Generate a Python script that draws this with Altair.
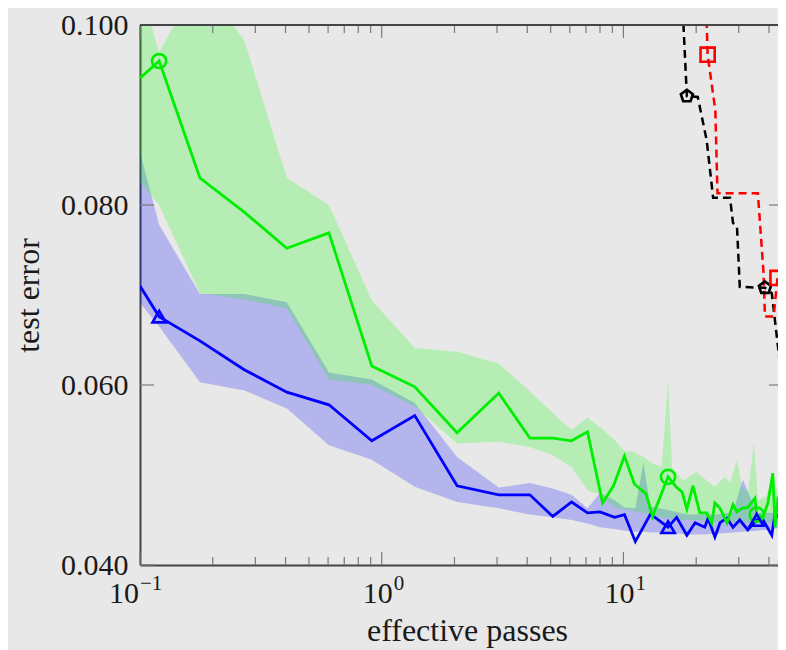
import altair as alt
import pandas as pd

# ---------------- data ----------------
# blue series (triangles)
blue_x = [0.1, 0.12, 0.177, 0.27, 0.405, 0.605, 0.91, 1.37, 2.05, 3.05, 4.1, 5.1, 6.1, 7.1, 8.0, 9.2,
          10.1, 11.2, 12.9, 13.5, 15.3, 16.6, 18.3, 19.8, 21.7, 22.4, 23.9, 25.1, 26.8, 28.4, 30.3,
          32.7, 35.6, 37.8, 41.1, 42.4, 44.4, 46.6]
blue_y = [0.0710, 0.0676, 0.0649, 0.0617, 0.0592, 0.0578, 0.0538, 0.0566, 0.0488, 0.0478, 0.0478,
          0.0454, 0.0470, 0.0458, 0.0459, 0.0453, 0.0456, 0.0426, 0.0456, 0.0453, 0.0442, 0.0453,
          0.0433, 0.0447, 0.0442, 0.0452, 0.0431, 0.0447, 0.0452, 0.0442, 0.0450, 0.0439, 0.0450,
          0.0450, 0.0433, 0.0458, 0.0452, 0.0453]
blue_band_x = [0.1, 0.12, 0.177, 0.27, 0.405, 0.605, 0.91, 1.37, 2.05, 3.05, 4.1, 5.1, 6.1, 7.1, 8.0,
               9.2, 10.1, 11.2, 12.1, 12.9, 15.3, 18.3, 21.7, 24.5, 28.4, 31.2, 35.6, 41.1, 46.6]
blue_hi = [0.0858, 0.0778, 0.0701, 0.0701, 0.0692, 0.0614, 0.0606, 0.0580, 0.0520, 0.0486, 0.0491,
           0.0485, 0.0478, 0.0463, 0.0480, 0.0472, 0.0464, 0.0463, 0.0514, 0.0465, 0.0461, 0.0456,
           0.0456, 0.0456, 0.0459, 0.0495, 0.0458, 0.0458, 0.0456]
blue_lo = [0.0691, 0.0665, 0.0603, 0.0594, 0.0574, 0.0533, 0.0517, 0.0487, 0.0470, 0.0463, 0.0456,
           0.0453, 0.0450, 0.0446, 0.0442, 0.0440, 0.0438, 0.0437, 0.0437, 0.0436, 0.0436, 0.0434,
           0.0434, 0.0435, 0.0436, 0.0437, 0.0438, 0.0440, 0.0442]

# green series (circles)
green_x = [0.1, 0.12, 0.177, 0.27, 0.405, 0.605, 0.91, 1.37, 2.05, 3.05, 4.1, 5.1, 6.1, 7.1, 8.2, 9.1,
           10.1, 11.1, 12.4, 13.2, 15.3, 16.5, 17.5, 18.3, 19.4, 20.7, 22.1, 23.2, 23.9, 25.1, 26.8,
           28.4, 29.5, 30.9, 32.7, 35.0, 35.6, 37.8, 39.6, 41.5, 42.4, 43.6, 45.2, 46.6]
green_y = [0.0941, 0.0960, 0.0830, 0.0792, 0.0752, 0.0769, 0.0621, 0.0598, 0.0547, 0.0591, 0.0541,
           0.0541, 0.0538, 0.0548, 0.0469, 0.0488, 0.0521, 0.0490, 0.0479, 0.0454, 0.0498, 0.0487,
           0.0481, 0.0462, 0.0488, 0.0458, 0.0458, 0.0447, 0.0469, 0.0463, 0.0447, 0.0467, 0.0459,
           0.0463, 0.0464, 0.0474, 0.0456, 0.0453, 0.0469, 0.0502, 0.0442, 0.0476, 0.0453, 0.0464]
green_band_x = [0.1, 0.12, 0.177, 0.27, 0.405, 0.605, 0.91, 1.37, 2.05, 3.05, 4.1, 5.1, 6.1, 7.1, 8.0,
                9.2, 10.1, 10.9, 12.1, 13.2, 14.4, 15.3, 15.9, 17.6, 20.1, 22.1, 23.9, 26.3, 27.6,
                29.5, 30.9, 32.7, 34.7, 36.0, 39.0, 41.5, 44.4, 46.6]
green_hi = [0.1040, 0.0970, 0.1050, 0.0983, 0.0830, 0.0800, 0.0694, 0.0641, 0.0637, 0.0624, 0.0593,
            0.0569, 0.0550, 0.0564, 0.0553, 0.0539, 0.0526, 0.0526, 0.0520, 0.0513, 0.0509, 0.0606,
            0.0509, 0.0494, 0.0503, 0.0494, 0.0487, 0.0498, 0.0491, 0.0517, 0.0487, 0.0480, 0.0536,
            0.0472, 0.0476, 0.0500, 0.0472, 0.0464]
green_lo = [0.0825, 0.0800, 0.0702, 0.0695, 0.0685, 0.0606, 0.0600, 0.0576, 0.0535, 0.0537, 0.0531,
            0.0522, 0.0509, 0.0483, 0.0478, 0.0464, 0.0462, 0.0460, 0.0458, 0.0455, 0.0453, 0.0452,
            0.0451, 0.0450, 0.0450, 0.0449, 0.0448, 0.0448, 0.0448, 0.0447, 0.0447, 0.0447, 0.0447,
            0.0447, 0.0447, 0.0447, 0.0447, 0.0447]

# black dashed series (pentagons)
black_x = [17.5, 18.3, 20.3, 22.1, 23.5, 27.6, 28.4, 29.5, 30.3, 38.5, 41.1, 44.4, 47.0]
black_y = [0.1030, 0.0921, 0.0920, 0.0872, 0.0808, 0.0808, 0.0780, 0.0776, 0.0709, 0.0708, 0.0702,
           0.0624, 0.0617]
# red dashed series (squares)
red_x = [22.0, 22.3, 24.0, 24.5, 36.0, 38.0, 38.5, 41.8, 43.4, 45.6, 46.0, 47.0]
red_y = [0.1020, 0.0967, 0.0905, 0.0813, 0.0813, 0.0724, 0.0676, 0.0676, 0.0719, 0.0702, 0.0658, 0.0655]

# markers
green_mk_x = [0.12, 15.3, 35.6]
green_mk_y = [0.0960, 0.0498, 0.0456]
blue_mk_x = [0.12, 15.3, 35.6]
blue_mk_y = [0.0676, 0.0442, 0.0450]
black_mk_x = [18.3, 38.5]
black_mk_y = [0.0921, 0.0708]
red_mk_x = [22.3, 43.4]
red_mk_y = [0.0967, 0.0719]

# axis ticks and tick labels
x_major = [0.1, 1, 10]
x_label_base = ["10", "10", "10"]
x_label_exp = ["−1", "0", "1"]
x_minor = [0.2, 0.3, 0.4, 0.5, 0.6, 0.7, 0.8, 0.9, 2, 3, 4, 5, 6, 7, 8, 9, 20, 30, 40]
y_major = [0.04, 0.06, 0.08, 0.10]

# ---------------- chart ----------------
W, H = 638, 540
FONT = "Liberation Serif"
AXC = "#444444"
TXT = "#1a1a1a"
xscale = alt.Scale(type="log", domain=[0.1, 43.6], nice=False)
yscale = alt.Scale(domain=[0.04, 0.10], nice=False, zero=False)

xaxis = alt.Axis(values=x_major, ticks=False, tickSize=0, domain=True, domainColor=AXC,
                 domainWidth=2, grid=False, labels=False,
                 titleFont=FONT, titleFontSize=32, titleFontWeight="normal", titleColor=TXT,
                 titleX=327, titleY=75, titleBaseline="alphabetic")
yaxis = alt.Axis(values=y_major, format=".3f", ticks=False, tickSize=0, domain=True,
                 domainColor=AXC, domainWidth=2, grid=False,
                 labelFont=FONT, labelFontSize=30, labelColor=TXT, labelPadding=12,
                 labelBaseline="middle", labelFlush=False,
                 titleFont=FONT, titleFontSize=32, titleFontWeight="normal", titleColor=TXT,
                 titleX=-102, titleY=270, titleBaseline="alphabetic", titleAngle=270)


def X(f):
    return alt.X(f, type="quantitative", scale=xscale, axis=xaxis, title="effective passes")


def Y(f):
    return alt.Y(f, type="quantitative", scale=yscale, axis=yaxis, title="test error")


def df(**kw):
    return pd.DataFrame(kw)


blue_band = alt.Chart(df(x=blue_band_x, lo=blue_lo, hi=blue_hi)).mark_area(
    color="#0000ff", opacity=0.22, clip=True).encode(x=X("x"), y=Y("lo"), y2="hi")
green_band = alt.Chart(df(x=green_band_x, lo=green_lo, hi=green_hi)).mark_area(
    color="#00ff00", opacity=0.22, clip=True).encode(x=X("x"), y=Y("lo"), y2="hi")

blue_line = alt.Chart(df(x=blue_x, y=blue_y)).mark_line(
    color="#0000ff", strokeWidth=2.8, clip=True).encode(x=X("x"), y=Y("y"))
green_line = alt.Chart(df(x=green_x, y=green_y)).mark_line(
    color="#00ee00", strokeWidth=2.8, clip=True).encode(x=X("x"), y=Y("y"))
black_line = alt.Chart(df(x=black_x, y=black_y)).mark_line(
    color="#000000", strokeWidth=2.5, strokeDash=[8, 5], clip=True).encode(x=X("x"), y=Y("y"))
red_line = alt.Chart(df(x=red_x, y=red_y)).mark_line(
    color="#ff0000", strokeWidth=2.5, strokeDash=[8, 5], clip=True).encode(x=X("x"), y=Y("y"))

PENTAGON = "M0,-1L0.951,-0.309L0.588,0.809L-0.588,0.809L-0.951,-0.309Z"
green_mk = alt.Chart(df(x=green_mk_x, y=green_mk_y)).mark_point(
    shape="circle", filled=False, size=200, strokeWidth=2.6, color="#00ee00", opacity=1,
    clip=True).encode(x=X("x"), y=Y("y"))
blue_mk = alt.Chart(df(x=blue_mk_x, y=blue_mk_y)).mark_point(
    shape="triangle-up", filled=False, size=180, strokeWidth=2.6, color="#0000ff", opacity=1,
    clip=True).encode(x=X("x"), y=Y("y"))
black_mk = alt.Chart(df(x=black_mk_x, y=black_mk_y)).mark_point(
    shape=PENTAGON, filled=False, size=160, strokeWidth=2.6, color="#000000", opacity=1,
    clip=True).encode(x=X("x"), y=Y("y"))
red_mk = alt.Chart(df(x=red_mk_x, y=red_mk_y)).mark_point(
    shape="square", filled=False, size=200, strokeWidth=2.6, color="#ff0000", opacity=1,
    clip=True).encode(x=X("x"), y=Y("y"))

TICK = "#7a7a7a"
ticks = []
for vals, length in ((x_major, 13), (x_minor, 8)):
    d = df(v=vals)
    ticks.append(alt.Chart(d).mark_rule(color=TICK, strokeWidth=1.2).encode(
        x=X("v"), y=alt.value(H), y2=alt.value(H - length)))
    ticks.append(alt.Chart(d).mark_rule(color=TICK, strokeWidth=1.2).encode(
        x=X("v"), y=alt.value(0), y2=alt.value(length)))
dy = df(v=y_major)
ticks.append(alt.Chart(dy).mark_rule(color=TICK, strokeWidth=1.2).encode(
    y=Y("v"), x=alt.value(0), x2=alt.value(14)))
ticks.append(alt.Chart(dy).mark_rule(color=TICK, strokeWidth=1.2).encode(
    y=Y("v"), x=alt.value(W), x2=alt.value(W - 9)))

# x tick labels 10^k, drawn as base + superscript, whole label centred on its tick
lab = df(v=x_major, base=x_label_base, exp=x_label_exp)
lab_neg = lab[lab["exp"].str.len() > 1]
lab_pos = lab[lab["exp"].str.len() == 1]
labels = []
for d, base_dx, exp_dx in ((lab_neg, -1, 0), (lab_pos, 11, 12)):
    labels.append(alt.Chart(d).mark_text(
        font=FONT, fontSize=30, color=TXT, align="right", baseline="alphabetic", dx=base_dx,
        clip=False).encode(x=X("v"), y=alt.value(H + 38), text="base:N"))
    labels.append(alt.Chart(d).mark_text(
        font=FONT, fontSize=21, color=TXT, align="left", baseline="alphabetic", dx=exp_dx,
        clip=False).encode(x=X("v"), y=alt.value(H + 25), text="exp:N"))

# top frame line
top_line = alt.Chart(df(v=[0])).mark_rule(color=AXC, strokeWidth=2).encode(
    x=alt.value(0), x2=alt.value(W), y=alt.value(0))

chart = alt.layer(
    blue_band, green_band, *ticks, blue_line, green_line, black_line, red_line,
    green_mk, blue_mk, black_mk, red_mk, top_line, *labels
).properties(
    width=W, height=H,
    padding={"left": 132, "top": 17, "right": 0, "bottom": 85},
    autosize=alt.AutoSizeParams(type="none"),
    background="#e8e8e8",
).configure_view(
    stroke=None
)

chart.save("out.html", embed_options={"renderer": "svg", "actions": False})
